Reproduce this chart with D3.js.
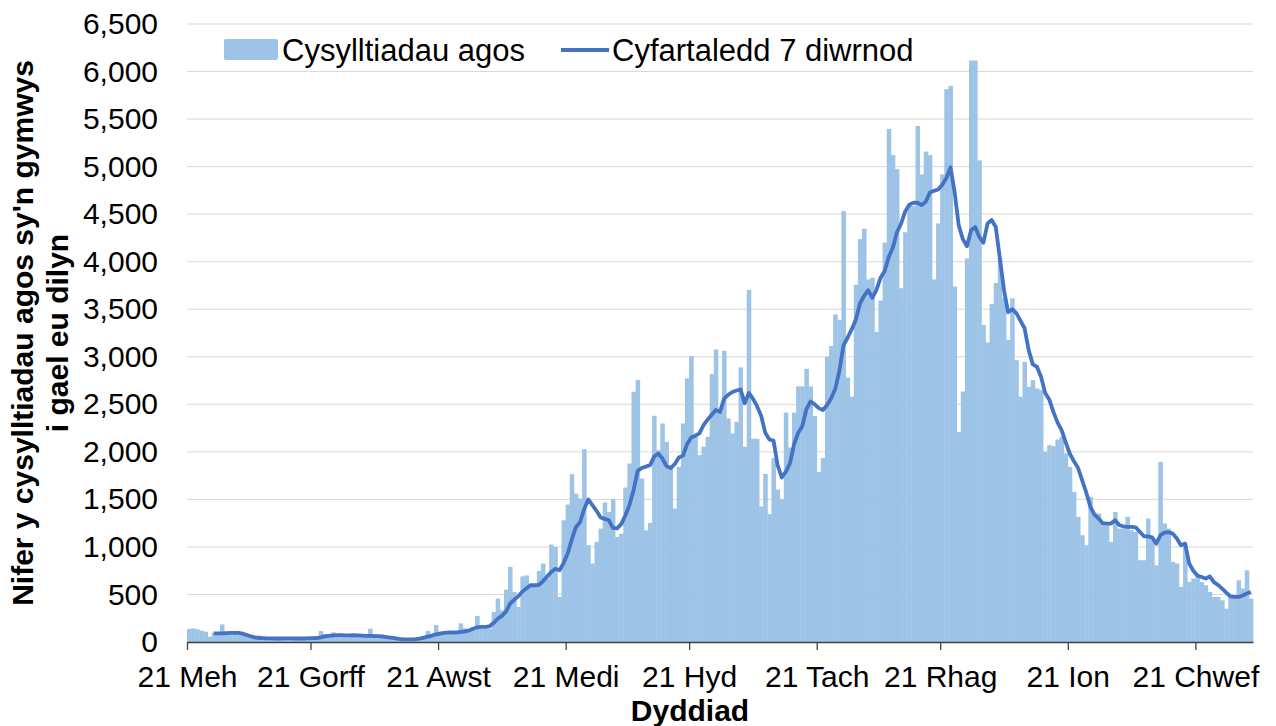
<!DOCTYPE html>
<html lang="cy">
<head>
<meta charset="UTF-8">
<title>Cysylltiadau agos</title>
<script src="https://cdn.jsdelivr.net/npm/d3@7"></script>
<style>
  body { margin: 0; background: #fff; }
  svg { font-family: "Liberation Sans", Arial, sans-serif; }
  .grid line { stroke: #d9d9d9; stroke-width: 1; }
  .axis text { fill: #000; font-size: 30px; }
  .title { font-size: 30px; font-weight: bold; fill: #000; }
  .legend text { font-size: 31px; fill: #000; }
</style>
</head>
<body>
<svg id="chart" width="1276" height="726"></svg>
<script>
// daily close contacts eligible for follow-up, from 21 Jun 2020
const startDate = new Date(Date.UTC(2020, 5, 21));

const contacts = [
  136,143,133,119,108,56,98,98,185,108,
  91,91,84,70,62,58,55,68,52,50,
  48,45,50,55,48,45,42,50,45,60,
  48,45,115,84,73,101,80,78,75,85,
  70,80,68,72,140,78,65,55,50,45,
  40,30,28,25,30,35,28,63,115,73,
  178,110,105,120,108,112,196,143,125,158,
  274,140,145,140,316,456,333,550,790,526,
  368,690,700,614,614,747,825,667,1025,1000,
  474,1280,1446,1765,1561,1509,2028,1018,825,1053,
  1193,1467,1368,1502,1105,1140,1625,1877,2632,2755,
  1719,1175,1253,2379,2018,2298,2105,1842,1404,1842,
  2298,2772,3007,2158,1965,2053,2158,2818,3077,2439,
  3063,2351,2193,2316,2888,2053,3702,2137,2137,1426,
  1768,1345,1934,1603,1500,2413,2045,2413,2689,2689,
  2873,2689,2376,1787,1934,3002,3113,3445,3389,4531,
  2781,2579,3758,4237,4347,3813,3831,3260,3592,4200,
  5397,5121,4973,3721,4310,4587,4587,5427,4918,5158,
  5121,3813,4402,4918,5814,5849,3739,2210,2634,4034,
  6116,6116,5066,3334,3150,3555,3776,4034,3620,3176,
  3614,2965,2579,2947,2684,2754,2667,2650,2000,2070,
  2060,2130,2158,1983,1842,1579,1316,1123,1018,1526,
  1351,1351,1246,1228,1053,1368,1193,1193,1316,1175,
  1158,860,860,1298,1105,807,1895,1246,1193,842,
  825,579,1035,632,667,702,632,597,526,474,
  474,439,351,474,491,649,562,754,456
];

const avg7 = [
  null,null,null,null,null,null,91,91,91,93,
  95,95,95,88,74,60,49,42,40,38,
  38,37,37,38,38,38,37,37,37,38,
  40,42,49,60,65,70,72,72,70,70,
  72,70,68,65,65,63,62,58,52,46,
  40,32,28,27,27,29,35,46,56,67,
  81,88,95,98,100,102,105,112,120,140,
  155,160,160,165,200,245,275,320,404,445,
  480,530,565,597,597,600,640,690,737,770,
  755,830,930,1080,1210,1260,1400,1500,1440,1380,
  1310,1295,1280,1200,1195,1240,1330,1440,1597,1800,
  1830,1845,1860,1950,1983,1930,1850,1830,1870,1940,
  1960,2080,2150,2170,2195,2280,2340,2390,2440,2420,
  2560,2600,2630,2645,2656,2510,2620,2560,2480,2380,
  2200,2130,2118,1860,1731,1790,1880,2080,2200,2270,
  2450,2530,2500,2460,2440,2490,2560,2660,2850,3120,
  3200,3290,3390,3560,3640,3700,3620,3700,3830,3900,
  4050,4150,4310,4400,4530,4600,4620,4620,4595,4630,
  4727,4745,4760,4808,4880,4992,4734,4384,4237,4163,
  4330,4365,4260,4200,4400,4439,4365,4034,3702,3470,
  3500,3460,3380,3300,3070,2920,2895,2790,2620,2550,
  2420,2310,2228,2100,1980,1900,1830,1700,1570,1420,
  1340,1298,1250,1246,1246,1281,1230,1215,1211,1211,
  1205,1160,1112,1110,1100,1035,1123,1150,1155,1140,
  1088,1018,1035,825,750,700,684,667,691,630,
  600,561,520,480,474,474,490,509,526
];

const tickLabels = ["21 Meh", "21 Gorff", "21 Awst", "21 Medi", "21 Hyd", "21 Tach", "21 Rhag", "21 Ion", "21 Chwef"];
const yTicks = d3.range(0, 6501, 500);

const seriesNames = ["Cysylltiadau agos", "Cyfartaledd 7 diwrnod"];
const yTitle = ["Nifer y cysylltiadau agos sy'n gymwys", "i gael eu dilyn"];
const xTitle = "Dyddiad";

const barColor = "#9dc3e6";
const lineColor = "#4472c4";

const dates = contacts.map((v, i) => d3.utcDay.offset(startDate, i));
const tickDates = tickLabels.map((t, i) => d3.utcMonth.offset(startDate, i));

const plot = { left: 187, right: 1253, top: 24, bottom: 642 };

const x = d3.scaleUtc()
    .domain([startDate, d3.utcDay.offset(startDate, contacts.length)])
    .range([plot.left, plot.right]);
const y = d3.scaleLinear().domain([0, 6500]).range([plot.bottom, plot.top]);

const svg = d3.select("#chart");

// gridlines
svg.append("g").attr("class", "grid")
  .selectAll("line").data(yTicks.filter(v => v > 0)).join("line")
    .attr("x1", plot.left).attr("x2", plot.right)
    .attr("y1", d => y(d)).attr("y2", d => y(d));

// bars
svg.append("g").selectAll("rect").data(contacts).join("rect")
  .attr("x", (d, i) => x(dates[i]))
  .attr("width", (d, i) => x(d3.utcDay.offset(dates[i], 1)) - x(dates[i]) + 0.4)
  .attr("y", d => y(d))
  .attr("height", d => y(0) - y(d))
  .attr("fill", barColor);

// y axis
const yAxis = svg.append("g").attr("class", "axis")
  .attr("transform", `translate(${plot.left},0)`)
  .call(d3.axisLeft(y).tickValues(yTicks).tickFormat(d3.format(",")).tickSize(0).tickPadding(29));
yAxis.select(".domain").remove();

// x axis
const xAxis = svg.append("g").attr("class", "axis")
  .attr("transform", `translate(0,${plot.bottom})`)
  .call(d3.axisBottom(x).tickValues(tickDates).tickFormat((d, i) => tickLabels[i]).tickSize(8).tickPadding(16).tickSizeOuter(0));
xAxis.select(".domain").attr("stroke", "#404040").attr("stroke-width", 1.3);
xAxis.selectAll(".tick line").attr("stroke", "#404040").attr("stroke-width", 1.3);

// 7 day average line
const half = (x(d3.utcDay.offset(startDate, 1)) - x(startDate)) / 2;
const line = d3.line()
  .defined(d => d != null)
  .x((d, i) => x(dates[i]) + half)
  .y(d => y(d));
svg.append("path")
  .datum(avg7)
  .attr("fill", "none")
  .attr("stroke", lineColor)
  .attr("stroke-width", 3.8)
  .attr("stroke-linejoin", "round")
  .attr("d", line);

// axis titles
svg.append("text").attr("class", "title")
  .attr("text-anchor", "middle")
  .attr("x", 690).attr("y", 721)
  .text(xTitle);

const yt = svg.append("text").attr("class", "title")
  .attr("text-anchor", "middle")
  .attr("transform", "translate(33,333) rotate(-90)");
yt.append("tspan").attr("x", 0).attr("y", 0).text(yTitle[0]);
yt.append("tspan").attr("x", 0).attr("y", 35).text(yTitle[1]);

// legend
const legend = svg.append("g").attr("class", "legend");
legend.append("rect")
  .attr("x", 224).attr("y", 39).attr("width", 54).attr("height", 21)
  .attr("rx", 2).attr("fill", barColor);
legend.append("text").attr("x", 282).attr("y", 61).text(seriesNames[0]);
legend.append("line")
  .attr("x1", 561).attr("x2", 609).attr("y1", 50).attr("y2", 50)
  .attr("stroke", lineColor).attr("stroke-width", 3.8);
legend.append("text").attr("x", 612).attr("y", 61).text(seriesNames[1]);
</script>
</body>
</html>
